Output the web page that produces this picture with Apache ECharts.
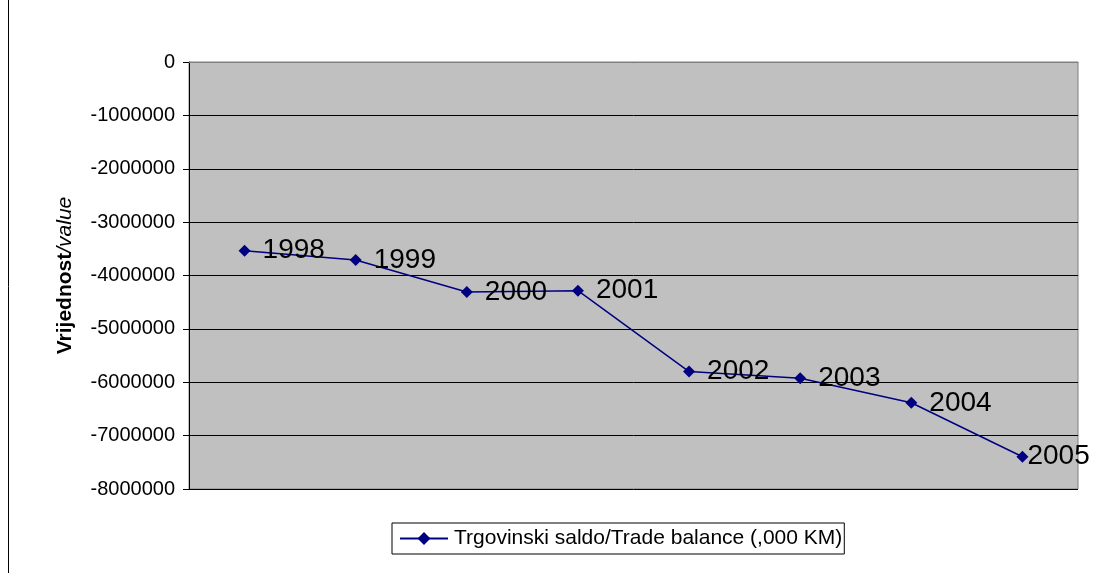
<!DOCTYPE html>
<html><head><meta charset="utf-8">
<script src="https://cdn.jsdelivr.net/npm/echarts@6/dist/echarts.min.js"></script>
<style>html,body{margin:0;padding:0;background:#fff}#c{width:1094px;height:573px}</style>
</head><body><div id="c"></div>
<script>
const years = ['1998','1999','2000','2001','2002','2003','2004','2005'];
const tradeBalance = [-3535000, -3710000, -4310000, -4285000, -5800000, -5925000, -6385000, -7395000];
const seriesName = 'Trgovinski saldo/Trade balance (,000 KM)';
const FONT = "'Liberation Sans', Arial, sans-serif";
const chart = echarts.init(document.getElementById('c'), null, {renderer:'canvas'});
const lastIdx = tradeBalance.length - 1;
const seriesData = tradeBalance.map((v, i) => i === lastIdx ? {value: v, label: {distance: -1}} : v);
chart.setOption({
  animation: false,
  textStyle: {fontFamily: FONT},
  graphic: [{type:'line', shape:{x1:8.5,y1:0,x2:8.5,y2:573}, style:{stroke:'#000',lineWidth:1}}],
  grid: {left:189, right:16, top:62, bottom:84, show:true, backgroundColor:'#c0c0c0', borderColor:'#808080', borderWidth:1},
  legend: {
    left: 392, top: 523, itemWidth: 48, itemHeight: 16, padding:[5,2,5,7],
    borderColor:'#000', borderWidth:1, itemGap: 4,
    textStyle:{fontSize:21, color:'#000', fontFamily:FONT, padding:[0,0,0,1]},
    data:[seriesName]
  },
  xAxis: {type:'category', data: years, boundaryGap:true,
    axisLine:{show:true, lineStyle:{color:'#808080'}}, axisTick:{show:false}, axisLabel:{show:false}},
  yAxis: {type:'value', min:-8000000, max:0, interval:1000000,
    name:'{b|Vrijednost}{i|/value}', nameLocation:'middle', nameGap:113, nameRotate:90,
    nameTextStyle:{rich:{b:{fontWeight:'bold',fontSize:21,fontFamily:FONT,color:'#000'},i:{fontStyle:'italic',fontSize:21,fontFamily:FONT,color:'#000'}}},
    axisLine:{show:true, lineStyle:{color:'#000'}}, axisTick:{show:true, length:6, lineStyle:{color:'#000'}},
    axisLabel:{fontSize:20, color:'#000', margin:14, fontFamily:FONT, formatter: v => String(v)},
    splitLine:{show:true, lineStyle:{color:'#000', width:1}}},
  series: [{
    name: seriesName, type:'line', data: seriesData,
    symbol:'diamond', symbolSize:12,
    lineStyle:{color:'#000080', width:1.5}, itemStyle:{color:'#000080'},
    label:{show:true, position:'right', distance:12, formatter: p => p.name, fontSize:28, color:'#000', fontFamily:FONT}
  }]
});
</script></body></html>
